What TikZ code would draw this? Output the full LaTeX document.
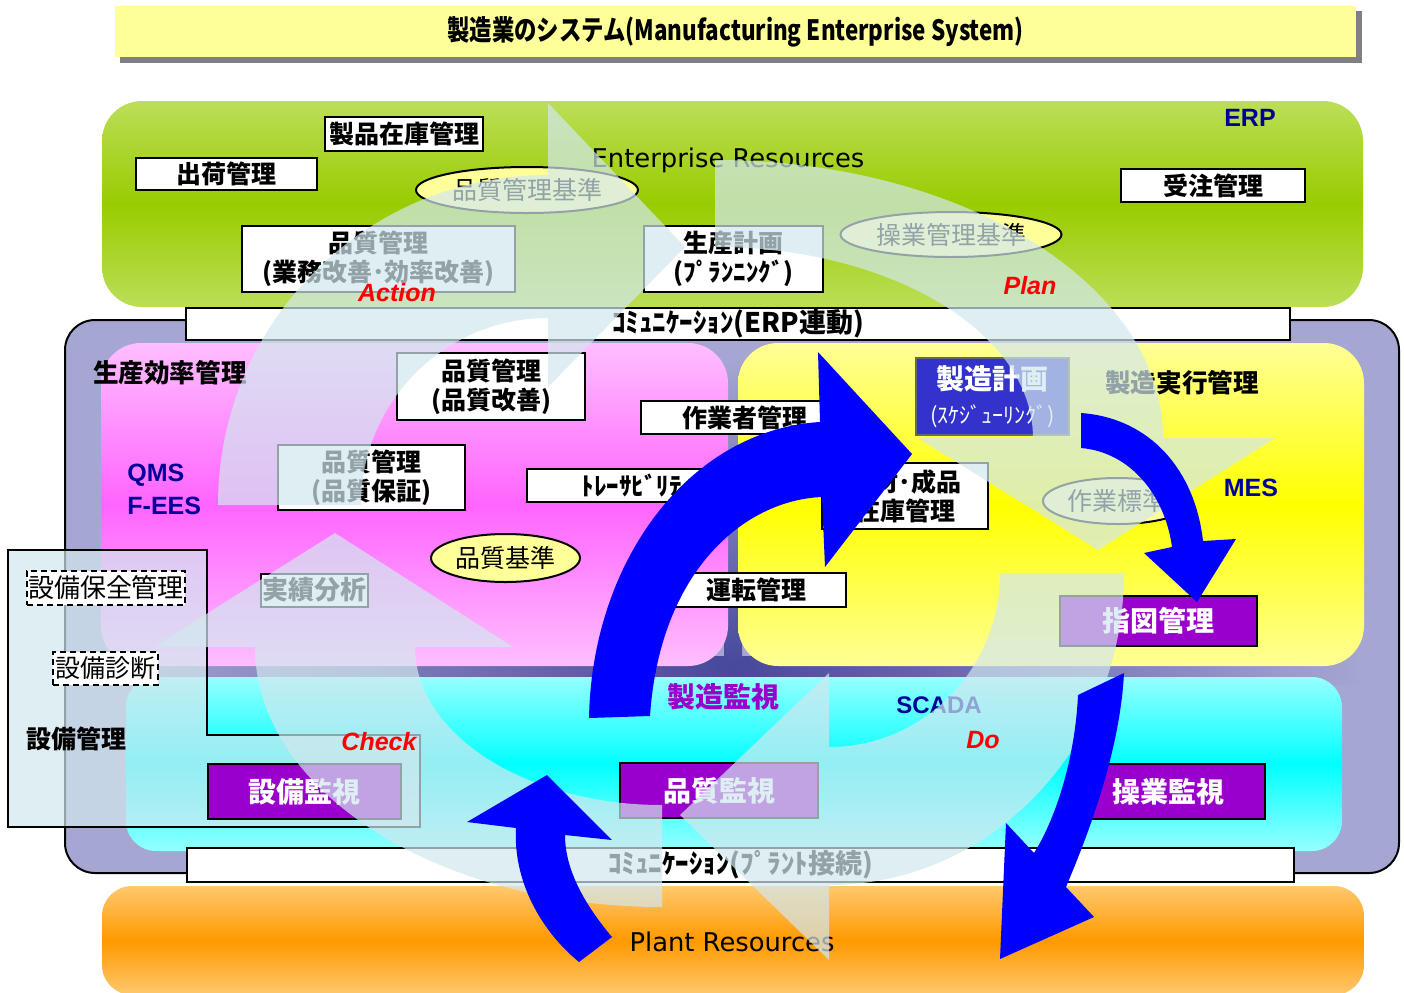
\documentclass[tikz,border=0pt]{standalone}
\usepackage{fontspec}
\setmainfont{Liberation Sans}
\newfontfamily\jp{Noto Sans CJK JP}
\newfontfamily\dv{DejaVu Sans}
\usetikzlibrary{shapes.geometric}
\definecolor{ttlyellow}{RGB}{255,255,153}
\definecolor{ttlshadow}{RGB}{128,128,128}
\definecolor{grnlight}{RGB}{188,222,88}
\definecolor{grnmid}{RGB}{153,204,0}
\definecolor{lav}{RGB}{166,166,210}
\definecolor{lavdark}{RGB}{72,72,156}
\definecolor{pinklight}{RGB}{255,190,255}
\definecolor{pinkmid}{RGB}{255,100,255}
\definecolor{yellight}{RGB}{255,255,150}
\definecolor{yelmid}{RGB}{255,255,0}
\definecolor{cyanlight}{RGB}{150,255,255}
\definecolor{cyanmid}{RGB}{0,255,255}
\definecolor{orglight}{RGB}{255,200,110}
\definecolor{orgmid}{RGB}{255,153,0}
\definecolor{navy}{RGB}{0,0,153}
\definecolor{purp}{RGB}{153,0,204}
\definecolor{plnblue}{RGB}{51,51,204}
\definecolor{pale}{RGB}{210,232,238}
\definecolor{ellyellow}{RGB}{255,255,153}
\definecolor{arrowblue}{RGB}{0,0,255}
\tikzset{
 wh/.style 2 args={minimum width=#1*0.5pt, minimum height=#2*0.5pt},
 box/.style={draw=black, line width=1pt, fill=white, inner sep=0pt, align=center,
   font=\jp\bfseries\fontsize{12.5}{14.5}\selectfont},
 commbar/.style={draw=black, line width=1pt, fill=white, inner sep=0pt,
   font=\jp\bfseries\fontsize{13.5}{15}\selectfont},
 pbox/.style={draw=black, line width=1pt, fill=purp, text=white, inner sep=0pt, align=center,
   font=\jp\bfseries\fontsize{14}{16}\selectfont},
 planbox/.style={draw=black!60, line width=1pt, fill=plnblue, text=white, inner sep=0pt, align=center,
   font=\jp\bfseries\fontsize{14}{16}\selectfont},
 dbox/.style={draw=black, line width=1.2pt, dash pattern=on 3pt off 2pt, fill=white, inner sep=0pt,
   font=\jp\fontsize{13}{15}\selectfont},
 ell/.style={ellipse, draw=black, line width=1pt, fill=ellyellow, inner sep=0pt,
   font=\jp\fontsize{12.5}{14}\selectfont},
 erp/.style={font=\bfseries\fontsize{12.5}{14}\selectfont, text=navy, inner sep=0pt},
 pdca/.style={font=\bfseries\itshape\fontsize{12.5}{14}\selectfont, text=red, inner sep=0pt},
 jlabel/.style={font=\jp\bfseries\fontsize{12.8}{15}\selectfont, inner sep=0pt},
 palearrow/.style={fill=pale, fill opacity=0.7},
 bluearrow/.style={fill=arrowblue},
 res/.style={font=\dv\fontsize{12.9}{15}\selectfont, inner sep=0pt},
}
\begin{document}
\begin{tikzpicture}[x=0.5pt,y=-0.5pt]
\useasboundingbox (0,0) rectangle (1404,992);
\fill[white] (0,0) rectangle (1404,992);

% title
\fill[ttlshadow] (120,11) rectangle (1362,63);
\node[fill=ttlyellow, wh={1241}{51}, inner sep=0pt, font=\jp\bfseries\fontsize{14}{16}\selectfont] (title) at (735.5,31.5) {\scalebox{0.8}[1]{製造業のシステム(Manufacturing Enterprise System)}};

% regions
\path[rounded corners=20pt, top color=grnlight, bottom color=grnlight, middle color=grnmid] (102,101) rectangle (1363,307);
\path[draw=black, line width=1pt, fill=lav, rounded corners=15pt] (65,320) rectangle (1399,873);
\shade[left color=lav, right color=lav, middle color=lavdark] (100,656) rectangle (1365,684);
\shade[top color=lav, bottom color=lavdark] (724,360) rectangle (742,668);
\path[rounded corners=20pt, top color=pinklight, bottom color=pinklight, middle color=pinkmid] (101,343) rectangle (728,666);
\path[rounded corners=20pt, top color=yellight, bottom color=yellight, middle color=yelmid] (738,343) rectangle (1364,666);
\path[rounded corners=15pt, top color=cyanlight, bottom color=cyanlight, middle color=cyanmid] (126,677) rectangle (1342,851);
\path[rounded corners=15pt, top color=orglight, bottom color=orglight, middle color=orgmid] (102,886) rectangle (1364,995);

% communication bars
\node[commbar, wh={1104}{32}] (comm1) at (738,324) {ｺﾐｭﾆｹｰｼｮﾝ(ERP連動)};
\node[commbar, wh={1107}{34}] (comm2) at (740.5,865) {ｺﾐｭﾆｹｰｼｮﾝ(ﾌﾟﾗﾝﾄ接続)};

% ERP area
\node[box, wh={158}{34}] (seihin) at (404,134) {製品在庫管理};
\node[box, wh={181}{32}] (shukka) at (226.5,174) {出荷管理};
\node[box, wh={184}{33}] (juchu) at (1213,185.5) {受注管理};
\node[box, wh={273}{66}] (hq1) at (378.5,259) {品質管理\\(業務改善･効率改善)};
\node[box, wh={179}{66}] (seisan) at (733.5,259) {生産計画\\(ﾌﾟﾗﾝﾆﾝｸﾞ)};
\node[ell, wh={222}{46}] (hkijun) at (527,190) {品質管理基準};
\node[ell, wh={221}{45}] (skijun) at (951,234.5) {操業管理基準};
\node[res] (ent) at (728,160) {Enterprise Resources};

% pink area
\node[jlabel] (kouritsu) at (170,373) {生産効率管理};
\node[erp, anchor=west] (qms) at (127,475) {QMS};
\node[erp, anchor=west] (fees) at (127,506) {F-EES};
\node[box, wh={188}{67}] (hq2) at (491,386.5) {品質管理\\(品質改善)};
\node[box, wh={208}{33}] (sagyosha) at (745,417.5) {作業者管理};
\node[box, wh={187}{65}] (hq3) at (371.5,477.5) {品質管理\\(品質保証)};
\node[box, wh={222}{33}] (trace) at (638,485.5) {ﾄﾚｰｻﾋﾞﾘﾃｨ};
\node[ell, wh={149}{48}] (hkijun2) at (505.5,558) {品質基準};
\node[box, wh={107}{33}, font=\jp\bfseries\fontsize{13}{15}\selectfont] (jisseki) at (314.5,590) {実績分析};
\node[box, wh={180}{34}] (unten) at (756,590) {運転管理};

% yellow area
\node[planbox, wh={153}{77}] (skeikaku) at (992.5,396.5) {製造計画\\[1pt]{\mdseries\fontsize{11}{13}\selectfont (ｽｹｼﾞｭｰﾘﾝｸﾞ)}};
\node[jlabel] (jikkou) at (1182,383) {製造実行管理};
\node[box, wh={166}{66}] (shizai) at (905,496) {資材･成品\\在庫管理};
\node[ell, wh={149}{46}] (hyojun) at (1117.5,501) {作業標準};
\node[pbox, wh={197}{50}] (shizu) at (1158.5,621) {指図管理};

% cyan area
\node[jlabel, text=purp, font=\jp\bfseries\fontsize{14}{16}\selectfont] (kanshi) at (723,697) {製造監視};
\node[erp, font=\bfseries\fontsize{12}{14}\selectfont] (scada) at (939,705) {SCADA};
\node[res] (plant) at (732,942) {Plant Resources};

% equipment management box
\path[draw=black, line width=1pt, fill=pale, fill opacity=0.7] (8,550) -- (207,550) -- (207,735) -- (420,735) -- (420,827) -- (8,827) -- cycle;
\node[dbox, wh={158}{34}] (hozen) at (106,588) {設備保全管理};
\node[dbox, wh={105}{33}, font=\jp\fontsize{12.5}{15}\selectfont] (shindan) at (105.5,668.5) {設備診断};
\node[jlabel, font=\jp\bfseries\fontsize{12.5}{15}\selectfont] (setsubikanri) at (76,739) {設備管理};

\node[pbox, wh={193}{55}] (setsubik) at (304.5,791.5) {設備監視};
\node[pbox, wh={198}{55}] (hinshitsuk) at (719,790.5) {品質監視};
\node[pbox, wh={194}{55}] (sougyouk) at (1168,791.5) {操業監視};

% pale PDCA cycle arrows
\fill[palearrow] (218,505) arc[start angle=180, end angle=270, radius=330] -- (548,103) -- (685,247) -- (548,387) -- (548,318) arc[start angle=270, end angle=180, radius=187] -- cycle;
\fill[palearrow] (715,160) arc[start angle=270, end angle=360, x radius=448, y radius=278] -- (1275,438) -- (1098,550) -- (918,438) -- (1033,438) arc[start angle=360, end angle=270, x radius=318, y radius=191] -- cycle;
\fill[palearrow] (1124,573) arc[start angle=0, end angle=90, x radius=295, y radius=312] -- (829,960) -- (680,815) -- (829,673) -- (829,747) arc[start angle=90, end angle=0, x radius=171, y radius=174] -- cycle;
\fill[palearrow] (662,907) arc[start angle=90, end angle=180, x radius=407, y radius=260] -- (154,647) -- (335,533) -- (513,647) -- (415,647) arc[start angle=180, end angle=90, x radius=247, y radius=158] -- cycle;

% blue arrows
\fill[bluearrow] (589,718) .. controls (592,560) and (690,430) .. (820,422) -- (818,352) -- (912,454) -- (825,567) -- (822,497) .. controls (745,500) and (660,570) .. (650,716) -- cycle;
\fill[bluearrow] (1081,413) .. controls (1150,418) and (1195,470) .. (1203,541) -- (1236,539) -- (1197,602) -- (1144,553) -- (1172,547) .. controls (1165,495) and (1130,452) .. (1081,448) -- cycle;
\fill[bluearrow] (1078,695) .. controls (1075,760) and (1055,820) .. (1034,853) -- (1006,823) -- (1000,959) -- (1094,917) -- (1066,887) .. controls (1090,830) and (1120,750) .. (1124,673) -- cycle;
\fill[bluearrow] (579,962) -- (612,937) .. controls (585,905) and (565,870) .. (565,835) -- (612,840) -- (547,775) -- (467,822) -- (516,828) .. controls (513,880) and (540,930) .. (579,962) -- cycle;

% labels on top
\node[erp] (erp) at (1250,118) {ERP};
\node[erp] (mes) at (1251,487.5) {MES};
\node[pdca] (action) at (397,293) {Action};
\node[pdca] (plan) at (1030,286) {Plan};
\node[pdca] (check) at (379,742) {Check};
\node[pdca] (do) at (983,740) {Do};
\end{tikzpicture}
\end{document}
